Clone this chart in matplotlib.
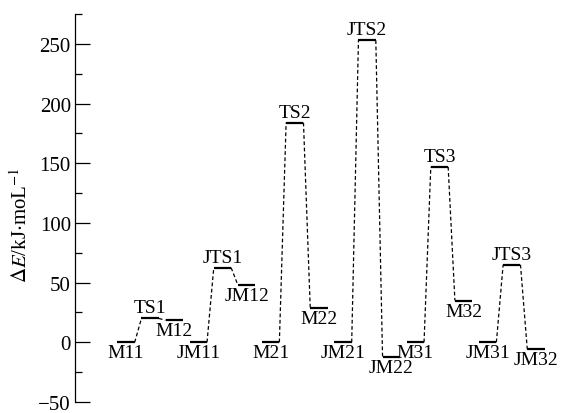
import matplotlib
matplotlib.use("Agg")
import matplotlib.pyplot as plt
from matplotlib.ticker import MultipleLocator

names = ["M11", "TS1", "M12", "JM11", "JTS1", "JM12", "M21", "TS2", "M22",
         "JM21", "JTS2", "JM22", "M31", "TS3", "M32", "JM31", "JTS3", "JM32"]
energies = [0, 20, 18.5, 0, 62.5, 48, 0, 184, 29,
            0, 253, -12.5, 0, 147, 35, 0, 65, -5.5]
label_above = [False, True, False, False, True, False, False, True, False,
               False, True, False, False, True, False, False, True, False]
groups = [(0, 3), (3, 6), (6, 9), (9, 12), (12, 15), (15, 18)]

plt.rcParams['font.family'] = ['Liberation Serif', 'DejaVu Serif']
plt.rcParams['mathtext.fontset'] = 'stix'

fig = plt.figure(figsize=(5.68, 4.14), dpi=100)
ax = fig.add_axes([75/568, 11/414, 493/568, 388/414])

hw = 0.36
for i, (n, e) in enumerate(zip(names, energies)):
    ax.plot([i - hw, i + hw], [e, e], color='black', lw=1.6, solid_capstyle='butt')
    if label_above[i]:
        ax.annotate(n, (i, e), xytext=(0, 1.5), textcoords='offset points',
                    ha='center', va='bottom', fontsize=14)
    else:
        ax.annotate(n, (i, e), xytext=(0, -1.5), textcoords='offset points',
                    ha='center', va='top', fontsize=14)

for a, b in groups:
    for i in range(a, b - 1):
        ax.plot([i + hw, i + 1 - hw], [energies[i], energies[i + 1]],
                color='black', lw=0.9, linestyle=(0, (3, 2)))

ax.set_xlim(-2.115, 18.33)
ax.set_ylim(-50, 275)
ax.set_yticks([-50, 0, 50, 100, 150, 200, 250])
ax.yaxis.set_minor_locator(MultipleLocator(25))
ax.set_yticklabels(["\u221250", "0", "50", "100", "150", "200", "250"])
ax.tick_params(axis='y', which='major', direction='in', length=11, width=0.9,
               labelsize=15, pad=3)
ax.tick_params(axis='y', which='minor', direction='in', length=5, width=0.9)
ax.set_xticks([])
for s in ['top', 'right', 'bottom']:
    ax.spines[s].set_visible(False)
ax.spines['left'].set_linewidth(0.9)

ax.set_ylabel(r'$\Delta\mathit{E}$/kJ$\cdot$moL$^{-1}$', fontsize=15)
ax.yaxis.set_label_coords(-0.087, 0.458)

fig.savefig("out.png", dpi=100)
